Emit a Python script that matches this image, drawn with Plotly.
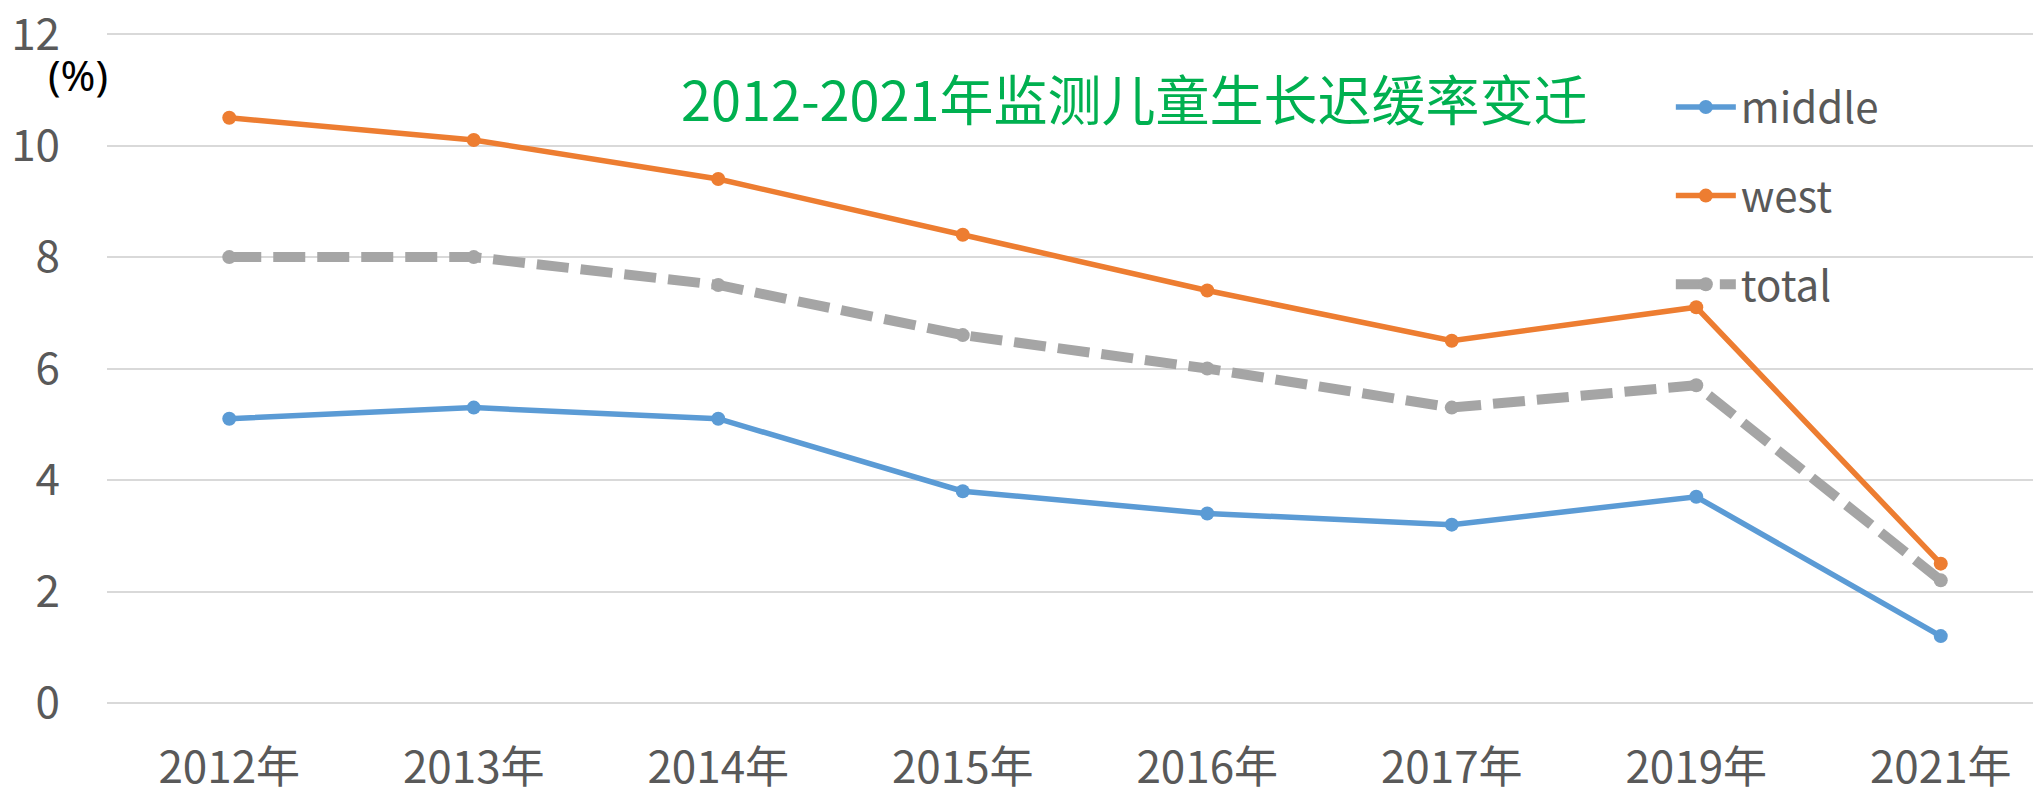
import plotly.graph_objects as go

categories = ["2012年", "2013年", "2014年", "2015年", "2016年", "2017年", "2019年", "2021年"]
middle = [5.1, 5.3, 5.1, 3.8, 3.4, 3.2, 3.7, 1.2]
west = [10.5, 10.1, 9.4, 8.4, 7.4, 6.5, 7.1, 2.5]
total = [8.0, 8.0, 7.5, 6.6, 6.0, 5.3, 5.7, 2.2]
y_ticks = [0, 2, 4, 6, 8, 10, 12]

title_text = "2012-2021年监测儿童生长迟缓率变迁"
unit_text = "(%)"

FONT = "Noto Sans CJK SC"

# The page body has an 8px default margin; the figure is sized to fill the rest.
PLOT_L, PLOT_T, PLOT_B = 99, 25, 91
FIG_W, FIG_H = 2033, 786
PW = FIG_W - PLOT_L
PH = FIG_H - PLOT_T - PLOT_B

fig = go.Figure()
fig.add_trace(go.Scatter(
    x=categories, y=middle, name="middle", mode="lines+markers",
    line=dict(color="#5B9BD5", width=5.5),
    marker=dict(color="#5B9BD5", size=14),
    legendgroup="a",
))
fig.add_trace(go.Scatter(
    x=categories, y=west, name="west", mode="lines+markers",
    line=dict(color="#ED7D31", width=5.5),
    marker=dict(color="#ED7D31", size=14),
    legendgroup="b",
))
fig.add_trace(go.Scatter(
    x=categories, y=total, name="total", mode="lines+markers",
    line=dict(color="#A5A5A5", width=10, dash="32px,12px"),
    marker=dict(color="#A5A5A5", size=14),
    legendgroup="c",
))

fig.update_layout(
    width=FIG_W, height=FIG_H,
    margin=dict(l=PLOT_L, r=0, t=PLOT_T, b=PLOT_B),
    paper_bgcolor="white", plot_bgcolor="white",
    font=dict(family=FONT, color="#595959", size=44),
    showlegend=True,
    legend=dict(
        x=0.8086, xanchor="left", y=0.94, yanchor="top",
        font=dict(size=42, color="#595959", family=FONT),
        bgcolor="rgba(0,0,0,0)",
        traceorder="grouped", tracegroupgap=31,
        itemwidth=60,
    ),
    xaxis=dict(
        type="category", range=[-0.5, 7.41], automargin=False,
        showgrid=False, zeroline=False, showline=False,
        tickfont=dict(size=44, color="#595959", family=FONT),
        ticks="", ticklabelstandoff=35, ticklabeloverflow="allow",
    ),
    yaxis=dict(
        range=[0, 12.02], tickvals=y_ticks, automargin=False,
        showgrid=True, gridcolor="#D9D9D9", gridwidth=2,
        zeroline=True, zerolinecolor="#D9D9D9", zerolinewidth=2,
        showline=False,
        tickfont=dict(size=44, color="#595959", family=FONT),
        ticks="", ticklabelstandoff=46, ticklabeloverflow="allow",
    ),
    annotations=[
        dict(text=title_text, xref="paper", yref="paper",
             x=(1126 - PLOT_L) / PW, y=(695 - 89) / PH, xanchor="center", yanchor="middle",
             showarrow=False, font=dict(size=54, color="#00B050", family=FONT)),
        dict(text=unit_text, xref="paper", yref="paper",
             x=(70 - PLOT_L) / PW, y=(695 - 67) / PH, xanchor="center", yanchor="middle",
             showarrow=False, font=dict(size=42, color="#000000", family="Noto Sans")),
    ],
)

fig.write_html("out.html")
